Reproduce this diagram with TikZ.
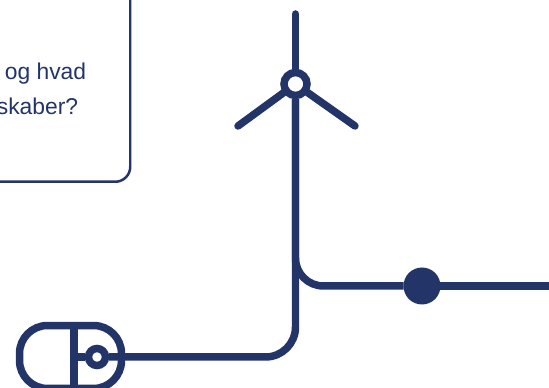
\documentclass[tikz,border=0pt]{standalone}
\usepackage{fontspec}
\setmainfont{Liberation Sans}
\usepackage{xcolor}
\usetikzlibrary{calc}
\definecolor{navy}{HTML}{223468}

\tikzset{
  wire/.style={draw=navy,line width=0.15cm},
  blade/.style={wire,line cap=round},
  ring/.style={circle,draw=navy,line width=0.15cm,fill=white,inner sep=0pt,minimum size=0.46cm},
  knob/.style={circle,fill=navy,inner sep=0pt,outer sep=0pt,minimum size=0.74cm},
  wheel/.style={circle,draw=navy,line width=0.15cm,fill=white,inner sep=0pt,minimum size=0.34cm},
  mousebody/.style={draw=navy,line width=0.15cm,rounded corners=0.56cm,inner sep=0pt,minimum width=2.04cm,minimum height=1.26cm},
  textbox/.style={draw=navy,line width=0.05cm,rounded corners=0.3cm,inner sep=0pt,minimum width=10cm,minimum height=6cm},
  boxtext/.style={text=navy,font=\fontsize{13}{15}\selectfont,anchor=base east,inner sep=0pt},
}

\begin{document}
\begin{tikzpicture}[x=0.02cm,y=-0.02cm]

\clip (0,0) rectangle (549,388);

% tekstboks
\node[textbox,anchor=south east] (box) at (131.5,183) {};
\node[boxtext] (line1) at (86.5,79.5) {og hvad};
\node[boxtext] (line2) at (78.5,115) {skaber?};

% vindmølle
\node[ring] (hub) at (295.5,84) {};
\coordinate (top) at (295.5,14);
\coordinate (left) at (238,126);
\coordinate (right) at (355,126);
\draw[blade] (hub) -- (top);
\draw[blade] (hub) -- (left);
\draw[blade] (hub) -- (right);

% mus
\node[mousebody] (mouse) at (70.5,357) {};
\node[wheel] (scroll) at (97,357) {};
\coordinate (split) at (74,357);
\draw[wire] (split |- mouse.north) -- (split |- mouse.south);
\draw[wire] (split) -- (scroll);

% ledninger
\node[knob] (dot) at (422,286) {};
\coordinate (exit) at (549,286);
\draw[wire,rounded corners=0.6cm] (hub) |- (scroll);
\draw[wire,rounded corners=0.56cm] (hub) |- (dot);
\draw[wire] (dot) -- (exit);

\end{tikzpicture}
\end{document}
